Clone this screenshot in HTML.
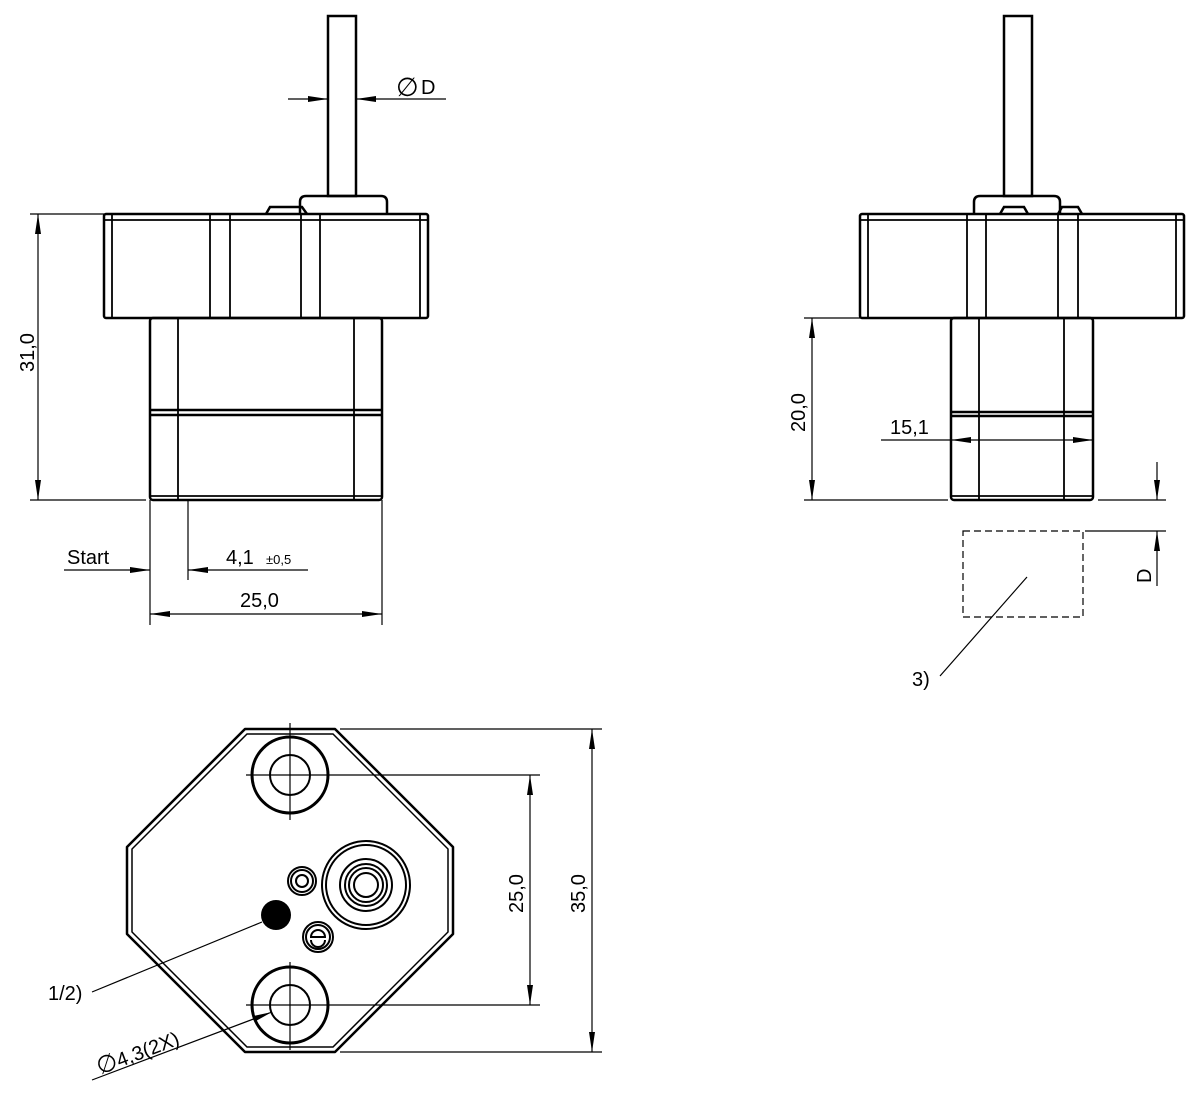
<!DOCTYPE html>
<html><head><meta charset="utf-8"><style>
html,body{margin:0;padding:0;background:#fff;}
svg{display:block;}
text{font-family:"Liberation Sans","DejaVu Sans",sans-serif;font-size:20px;fill:#000;}
</style></head><body>
<svg width="1200" height="1097" viewBox="0 0 1200 1097" xmlns="http://www.w3.org/2000/svg">
<defs>
<marker id="a" viewBox="0 0 20 6" refX="20" refY="3" markerWidth="20" markerHeight="6" markerUnits="userSpaceOnUse" orient="auto-start-reverse"><path d="M0,0 L20,3 L0,6 Z" fill="#000"/></marker>
</defs>
<g fill="none" stroke="#000">
<!-- LEFT VIEW -->
<g stroke-width="2.5">
<rect x="328" y="16" width="28" height="180"/>
<path d="M300,214 V202 Q300,196 306,196 H381 Q387,196 387,202 V214"/>
<path d="M266,214 L270,207 H302 L307,214"/>
<rect x="104" y="214" width="324" height="104" rx="2"/>
<rect x="150" y="318" width="232" height="182" rx="3"/>
</g>
<g stroke-width="1.8">
<line x1="104" y1="220" x2="428" y2="220"/>
<line x1="112" y1="214" x2="112" y2="318"/><line x1="420" y1="214" x2="420" y2="318"/>
<line x1="210" y1="214" x2="210" y2="318"/><line x1="230" y1="214" x2="230" y2="318"/>
<line x1="301" y1="214" x2="301" y2="318"/><line x1="320" y1="214" x2="320" y2="318"/>
<line x1="178" y1="318" x2="178" y2="500"/><line x1="354" y1="318" x2="354" y2="500"/>
<line x1="150" y1="410" x2="382" y2="410" stroke-width="2.5"/><line x1="150" y1="415" x2="382" y2="415" stroke-width="2.5"/>
<line x1="150" y1="496" x2="382" y2="496"/>
</g>
<g stroke-width="1.2">
<line x1="30" y1="214" x2="104" y2="214"/><line x1="30" y1="500" x2="146" y2="500"/>
<line x1="38" y1="214" x2="38" y2="500" marker-start="url(#a)" marker-end="url(#a)"/>
<line x1="288" y1="99" x2="328" y2="99" marker-end="url(#a)"/>
<line x1="446" y1="99" x2="356" y2="99" marker-end="url(#a)"/>
<line x1="150" y1="500" x2="150" y2="625"/><line x1="382" y1="500" x2="382" y2="625"/>
<line x1="188" y1="500" x2="188" y2="580"/>
<line x1="64" y1="570" x2="150" y2="570" marker-end="url(#a)"/>
<line x1="308" y1="570" x2="188" y2="570" marker-end="url(#a)"/>
<line x1="150" y1="614" x2="382" y2="614" marker-start="url(#a)" marker-end="url(#a)"/>
</g>
<!-- RIGHT VIEW -->
<g stroke-width="2.5">
<rect x="1004" y="16" width="28" height="180"/>
<path d="M974,214 V202 Q974,196 980,196 H1054 Q1060,196 1060,202 V214"/>
<path d="M1000,214 L1004,207 H1024 L1028,214"/>
<path d="M1058,214 L1062,207 H1078 L1082,214"/>
<rect x="860" y="214" width="324" height="104" rx="2"/>
<rect x="951" y="318" width="142" height="182" rx="3"/>
</g>
<g stroke-width="1.8">
<line x1="860" y1="220" x2="1184" y2="220"/>
<line x1="868" y1="214" x2="868" y2="318"/><line x1="1176" y1="214" x2="1176" y2="318"/>
<line x1="967" y1="214" x2="967" y2="318"/><line x1="986" y1="214" x2="986" y2="318"/>
<line x1="1058" y1="214" x2="1058" y2="318"/><line x1="1078" y1="214" x2="1078" y2="318"/>
<line x1="979" y1="318" x2="979" y2="500"/><line x1="1064" y1="318" x2="1064" y2="500"/>
<line x1="951" y1="412" x2="1093" y2="412" stroke-width="2.5"/><line x1="951" y1="416" x2="1093" y2="416" stroke-width="2.5"/>
<line x1="951" y1="496" x2="1093" y2="496"/>
</g>
<g stroke-width="1.2">
<line x1="804" y1="318" x2="860" y2="318"/><line x1="804" y1="500" x2="948" y2="500"/>
<line x1="812" y1="318" x2="812" y2="500" marker-start="url(#a)" marker-end="url(#a)"/>
<line x1="881" y1="440" x2="951" y2="440"/>
<line x1="979" y1="440" x2="951" y2="440" marker-end="url(#a)"/>
<line x1="979" y1="440" x2="1093" y2="440" marker-end="url(#a)"/>
<line x1="1098" y1="500" x2="1166" y2="500"/>
<line x1="1085" y1="531" x2="1166" y2="531"/>
<line x1="1157" y1="462" x2="1157" y2="500" marker-end="url(#a)"/>
<line x1="1157" y1="586" x2="1157" y2="531" marker-end="url(#a)"/>
<rect x="963" y="531" width="120" height="86" stroke-dasharray="7,4"/>
<line x1="1027" y1="577" x2="940" y2="676"/>
</g>
<!-- BOTTOM VIEW -->
<g stroke-width="2.5">
<path d="M245,729 H335 L453,847 V934 L335,1052 H245 L127,934 V847 Z" stroke-linejoin="round"/>
</g>
<g stroke-width="1.5">
<path d="M247,734 H333 L448,849 V932 L333,1047 H247 L132,932 V849 Z"/>
</g>
<g stroke-width="3">
<circle cx="290" cy="775" r="38"/><circle cx="290" cy="1005" r="38"/>
</g>
<g stroke-width="2">
<circle cx="290" cy="775" r="20"/><circle cx="290" cy="1005" r="20"/>
<circle cx="366" cy="885" r="44"/><circle cx="366" cy="885" r="40"/>
<circle cx="366" cy="885" r="26"/><circle cx="366" cy="885" r="21"/><circle cx="366" cy="885" r="17"/><circle cx="366" cy="885" r="12"/>
<circle cx="302" cy="881" r="14"/><circle cx="302" cy="881" r="11"/><circle cx="302" cy="881" r="6"/>
<circle cx="318" cy="937" r="15"/><circle cx="318" cy="937" r="12"/>
<path d="M311,937 A7,7 0 0 1 325,937 Z M311,940 A7,7 0 0 0 325,940"/>
</g>
<circle cx="276" cy="915" r="15" fill="#000" stroke="none"/>
<g stroke-width="1.2">
<line x1="290" y1="723" x2="290" y2="820"/><line x1="246" y1="775" x2="540" y2="775"/>
<line x1="290" y1="962" x2="290" y2="1050"/><line x1="246" y1="1005" x2="540" y2="1005"/>
<line x1="340" y1="729" x2="602" y2="729"/><line x1="340" y1="1052" x2="602" y2="1052"/>
<line x1="530" y1="775" x2="530" y2="1005" marker-start="url(#a)" marker-end="url(#a)"/>
<line x1="592" y1="729" x2="592" y2="1052" marker-start="url(#a)" marker-end="url(#a)"/>
<line x1="262" y1="922" x2="92" y2="992"/>
<line x1="92" y1="1080" x2="272" y2="1012" marker-end="url(#a)"/>
</g>
</g>
<text x="396" y="96" style="font-size:26px">&#x2205;</text><text x="421" y="94">D</text>
<text transform="translate(34,372) rotate(-90)">31,0</text>
<text x="67" y="564">Start</text>
<text x="226" y="564">4,1</text><text x="266" y="564" style="font-size:13px">±0,5</text>
<text x="240" y="607">25,0</text>
<text transform="translate(805,432) rotate(-90)">20,0</text>
<text x="890" y="434">15,1</text>
<text transform="translate(1151,583) rotate(-90)">D</text>
<text x="912" y="686">3)</text>
<text x="48" y="1000">1/2)</text>
<text transform="translate(523,913) rotate(-90)">25,0</text>
<text transform="translate(585,913) rotate(-90)">35,0</text>
<text transform="translate(100,1075) rotate(-21)"><tspan style="font-size:24px">&#x2205;</tspan>4,3(2X)</text>
</svg>
</body></html>
